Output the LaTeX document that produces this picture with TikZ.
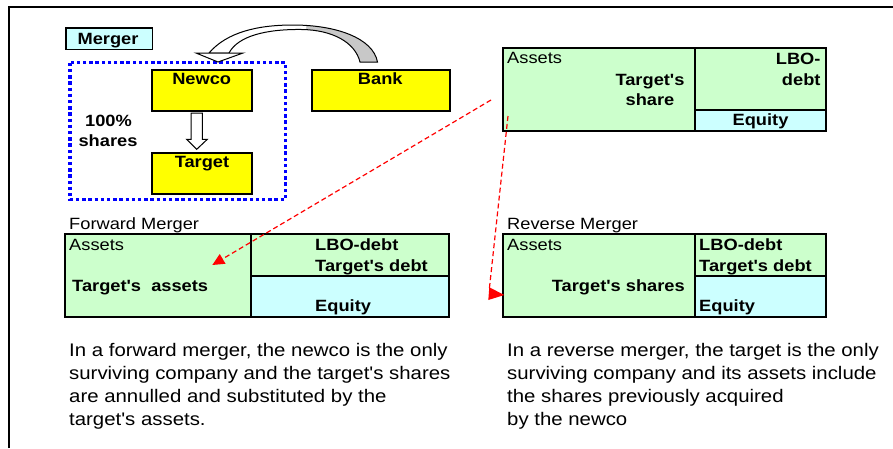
\documentclass[tikz,border=0pt]{standalone}
\usepackage{fontspec}
\setmainfont{Liberation Sans}[FakeStretch=1.12, Ligatures=TeXOff]
\usetikzlibrary{arrows.meta}
\definecolor{lgreen}{HTML}{CCFFCC}
\definecolor{lcyan}{HTML}{CCFFFF}
\definecolor{yel}{HTML}{FFFF00}
\definecolor{arrgray}{HTML}{C8C8C8}
\tikzset{
  lbl/.style={font=\fontsize{16.3}{19}\selectfont, inner sep=0pt},
  blbl/.style={font=\fontsize{16.3}{19}\selectfont\bfseries, inner sep=0pt},
  body/.style={font=\fontsize{18.2}{23}\selectfont, inner sep=0pt, anchor=base west},
  ybox/.style={draw=black, line width=2pt, fill=yel, anchor=north west, inner sep=0pt},
  tline/.style={draw=black, line width=2pt},
  reddash/.style={draw=red, line width=1.2pt, dash pattern=on 5pt off 3pt},
}
\begin{document}
\begin{tikzpicture}[x=1pt,y=-1pt]
\useasboundingbox (0,0) rectangle (893,448);
% frame
\draw[line width=2.3pt] (9,448) -- (9,6.7) -- (893,6.7);

% Merger label box
\node[draw=black, line width=1.6pt, fill=lcyan, anchor=north west, minimum width=86.5pt, minimum height=21.4pt, inner sep=0pt] (mergerbox) at (65,27.3) {};
\node[blbl, anchor=base] (mergert) at (108,44) {Merger};

% blue dotted group
\draw[blue, line width=3.5pt, dash pattern=on 3.4pt off 2.8pt] (70,62.7) rectangle (285.7,199.3);

% yellow boxes
\node[ybox, minimum width=100pt, minimum height=41pt] (newco) at (151,69) {};
\node[blbl, anchor=base] (newcot) at (201.7,84.3) {Newco};
\node[ybox, minimum width=138.6pt, minimum height=41pt] (bank) at (310.7,69) {};
\node[blbl, anchor=base] (bankt) at (380.3,84.3) {Bank};
\node[ybox, minimum width=100pt, minimum height=41.6pt] (target) at (151,151.7) {};
\node[blbl, anchor=base] (targett) at (202,167.7) {Target};

\node[blbl, anchor=base] (pct) at (108.5,126.7) {100\%};
\node[blbl, anchor=base] (shr) at (108,146.7) {shares};

% hollow down arrow
\draw[fill=white, line width=1pt] (191,113) -- (202.3,113) -- (202.3,139.3) -- (207.3,139.3)
  -- (196.7,149.3) -- (186.7,139.3) -- (191,139.3) -- cycle;

% curved arrow from bank to newco
\def\band{(209,53) .. controls (227,32) and (258,25) .. (293,25)
  .. controls (336,25) and (373,38) .. (377.5,62) -- (360,62)
  .. controls (355,42) and (332,30) .. (302,29.5)
  .. controls (266,29) and (238,36) .. (229,53) -- cycle}
\fill[arrgray] \band;
\begin{scope}
  \clip (190,10) rectangle (306,70);
  \fill[white] \band;
\end{scope}
\draw[line width=1pt] \band;
\draw[line width=1pt, fill=white] (196,53) -- (243,53) -- (218,62) -- cycle;

% top right table
\fill[lgreen] (502.7,47.7) rectangle (825.7,131);
\fill[lcyan] (695,110) rectangle (825.7,131);
\draw[tline] (502.7,47.7) rectangle (825.7,131);
\draw[tline] (695,47.7) -- (695,131);
\draw[tline] (695,110) -- (825.7,110);
\node[lbl, anchor=base west] (tra) at (507,63) {Assets};
\node[blbl, anchor=base] (trt1) at (650,85) {Target's};
\node[blbl, anchor=base] (trt2) at (650,105) {share};
\node[blbl, anchor=base east] (trl1) at (820.7,64) {LBO-};
\node[blbl, anchor=base east] (trl2) at (820.7,85) {debt};
\node[blbl, anchor=base] (tre) at (760.5,125) {Equity};

% forward merger table
\node[lbl, anchor=base west] (fwdt) at (69,229.3) {Forward Merger};
\fill[lgreen] (65,233.7) rectangle (449,317.3);
\fill[lcyan] (250.7,276) rectangle (449,317.3);
\draw[tline] (65,233.7) rectangle (449,317.3);
\draw[tline] (250.7,233.7) -- (250.7,317.3);
\draw[tline] (250.7,276) -- (449,276);
\node[lbl, anchor=base west] (fa) at (69,250) {Assets};
\node[blbl, anchor=base west] (fta) at (72,291) {Target's\ \ assets};
\node[blbl, anchor=base west] (fl1) at (315,250) {LBO-debt};
\node[blbl, anchor=base west] (fl2) at (315,271) {Target's debt};
\node[blbl, anchor=base west] (fe) at (315,311.5) {Equity};

% reverse merger table
\node[lbl, anchor=base west] (revt) at (507,229.3) {Reverse Merger};
\fill[lgreen] (502.7,233.7) rectangle (825.7,317);
\fill[lcyan] (695,276) rectangle (825.7,317);
\draw[tline] (502.7,233.7) rectangle (825.7,317);
\draw[tline] (695,233.7) -- (695,317);
\draw[tline] (695,276) -- (825.7,276);
\node[lbl, anchor=base west] (ra) at (507,250) {Assets};
\node[blbl, anchor=base east] (rts) at (685,291) {Target's shares};
\node[blbl, anchor=base west] (rl1) at (699,250) {LBO-debt};
\node[blbl, anchor=base west] (rl2) at (699,271) {Target's debt};
\node[blbl, anchor=base west] (re) at (699,311.5) {Equity};

% red dashed connectors
\coordinate (s1) at (491,100);
\coordinate (e1) at (212.3,265);
\draw[reddash, -{Triangle[length=12pt,width=11pt,fill=red]}] (s1) -- (e1);
\coordinate (s2) at (508,116);
\coordinate (e2) at (489.4,288.3);
\draw[reddash] (s2) -- (e2);
\fill[red] (489.3,287.3) -- (488.3,300) -- (504.3,295) -- cycle;

% body text
\node[body] (f1) at (69,356) {In a forward merger, the newco is the only};
\node[body] (f2) at (69,379.3) {surviving company and the target's shares};
\node[body] (f3) at (69,402.3) {are annulled and substituted by the};
\node[body] (f4) at (69,425) {target's assets.};
\node[body] (r1) at (507,356) {In a reverse merger, the target is the only};
\node[body] (r2) at (507,379.3) {surviving company and its assets include};
\node[body] (r3) at (507,402.3) {the shares previously acquired};
\node[body] (r4) at (507,425) {by the newco};
\end{tikzpicture}
\end{document}
